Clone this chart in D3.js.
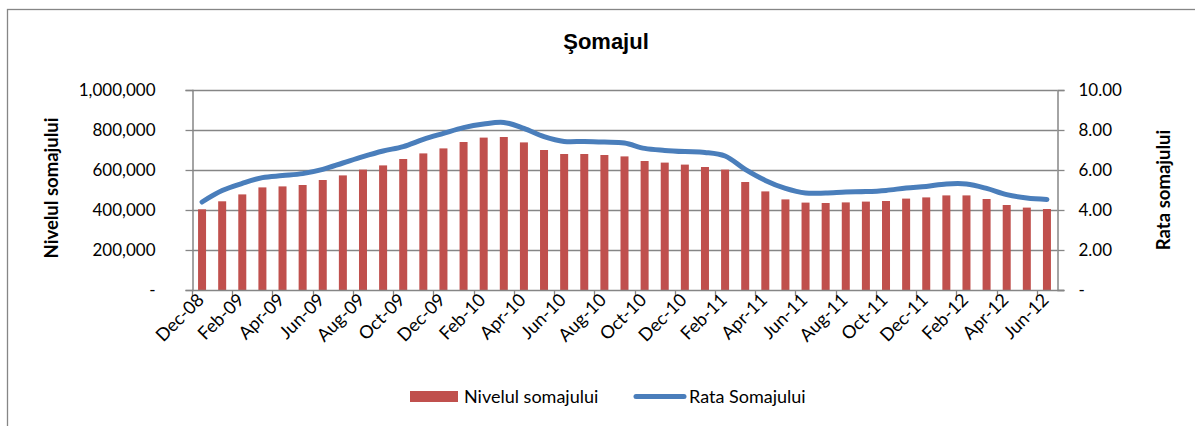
<!DOCTYPE html>
<html>
<head>
<meta charset="utf-8">
<script src="https://cdn.jsdelivr.net/npm/d3@7"></script>
<style>
    body { margin: 0; background: #fff; }
    text { font-family: Lato, "Open Sans", sans-serif; fill: #000; }
</style>
</head>
<body>
<div id="chart"></div>
<script>
const months = ["Dec-08", "Jan-09", "Feb-09", "Mar-09", "Apr-09", "May-09", "Jun-09", "Jul-09", "Aug-09", "Sep-09",
    "Oct-09", "Nov-09", "Dec-09", "Jan-10", "Feb-10", "Mar-10", "Apr-10", "May-10", "Jun-10", "Jul-10",
    "Aug-10", "Sep-10", "Oct-10", "Nov-10", "Dec-10", "Jan-11", "Feb-11", "Mar-11", "Apr-11", "May-11",
    "Jun-11", "Jul-11", "Aug-11", "Sep-11", "Oct-11", "Nov-11", "Dec-11", "Jan-12", "Feb-12", "Mar-12",
    "Apr-12", "May-12", "Jun-12"]

// numarul de someri (bare)
const nivelSomaj = [403500, 443500, 478000, 513000, 518000, 525000, 550000, 573000, 602000, 623000,
    655000, 683000, 708000, 740000, 762000, 765000, 738000, 700000, 680000, 680000,
    675000, 668000, 645000, 637000, 627000, 615000, 602000, 540000, 493000, 453000,
    437000, 435000, 438000, 442000, 445000, 457000, 463000, 473000, 473000, 455000,
    425000, 412000, 405000]

// rata somajului (linie)
const rataSomaj = [4.40, 4.97, 5.33, 5.62, 5.72, 5.82, 6.03, 6.35, 6.67, 6.95,
    7.17, 7.53, 7.83, 8.12, 8.30, 8.38, 8.08, 7.67, 7.43, 7.43,
    7.40, 7.35, 7.08, 6.98, 6.92, 6.88, 6.70, 6.03, 5.48, 5.08,
    4.85, 4.85, 4.90, 4.92, 4.98, 5.10, 5.18, 5.30, 5.30, 5.08,
    4.77, 4.60, 4.53]

const leftTicks = [0, 200000, 400000, 600000, 800000, 1000000]
const rightTicks = [0, 2, 4, 6, 8, 10]

const width = 1195
const height = 426
const plot = { left: 192, right: 1057, top: 90, bottom: 290 }
const gridColor = "#868686"
const barColor = "#c0504d"
const lineColor = "#4a7ebb"

const svg = d3.select("#chart")
    .append("svg")
    .attr("width", width)
    .attr("height", height)

// chenarul graficului
svg.append("rect")
    .attr("x", 7.5)
    .attr("y", 9.5)
    .attr("width", width + 10)
    .attr("height", height + 10)
    .style("fill", "none")
    .style("stroke", gridColor)
    .style("stroke-width", 1.3)

const x = d3.scaleBand()
    .domain(months)
    .range([plot.left, plot.right])
const yLeft = d3.scaleLinear()
    .domain([0, 1000000])
    .range([plot.bottom, plot.top])
const yRight = d3.scaleLinear()
    .domain([0, 10])
    .range([plot.bottom, plot.top])

// linii de grila
svg.selectAll(".grid")
    .data(leftTicks.slice(1))
    .enter()
    .append("line")
    .attr("class", "grid")
    .attr("x1", plot.left)
    .attr("x2", plot.right)
    .attr("y1", d => Math.round(yLeft(d)) + 0.5)
    .attr("y2", d => Math.round(yLeft(d)) + 0.5)
    .style("stroke", gridColor)
    .style("stroke-width", 1.3)

const fmtLeft = d => d === 0 ? "-" : d3.format(",")(d)
const fmtRight = d => d === 0 ? "-" : d3.format(".2f")(d)

const leftAxis = svg.append("g")
    .attr("transform", `translate(${plot.left + 0.5},0)`)
    .call(d3.axisLeft(yLeft).tickValues(leftTicks).tickFormat(fmtLeft).tickSize(7).tickPadding(30))
const rightAxis = svg.append("g")
    .attr("transform", `translate(${plot.right + 0.5},0)`)
    .call(d3.axisRight(yRight).tickValues(rightTicks).tickFormat(fmtRight).tickSize(7).tickPadding(14))

for (const ax of [leftAxis, rightAxis]) {
    ax.select(".domain").style("stroke", gridColor).style("stroke-width", 1.5)
    ax.selectAll(".tick line").style("stroke", gridColor).style("stroke-width", 1.3)
    ax.selectAll("text")
        .style("font-family", "Lato, sans-serif")
        .style("font-size", "17px")
        .style("fill", "#000")
}

// bare
const barWidth = 8
svg.selectAll(".bar")
    .data(nivelSomaj)
    .enter()
    .append("rect")
    .attr("class", "bar")
    .attr("x", (d, i) => x(months[i]) + x.bandwidth() / 2 - barWidth / 2)
    .attr("y", d => yLeft(d))
    .attr("width", barWidth)
    .attr("height", d => plot.bottom - yLeft(d))
    .style("fill", barColor)

// axa x
svg.append("line")
    .attr("x1", plot.left)
    .attr("x2", plot.right + 7)
    .attr("y1", plot.bottom + 0.5)
    .attr("y2", plot.bottom + 0.5)
    .style("stroke", gridColor)
    .style("stroke-width", 1.5)

const labelled = months.filter((d, i) => i % 2 === 0)
svg.selectAll(".xtick")
    .data(labelled)
    .enter()
    .append("line")
    .attr("class", "xtick")
    .attr("x1", d => Math.round(x(d)) + 0.5)
    .attr("x2", d => Math.round(x(d)) + 0.5)
    .attr("y1", plot.bottom)
    .attr("y2", plot.bottom + 6)
    .style("stroke", gridColor)
    .style("stroke-width", 1.3)

svg.selectAll(".xlabel")
    .data(labelled)
    .enter()
    .append("text")
    .attr("class", "xlabel")
    .text(d => d)
    .attr("text-anchor", "end")
    .attr("transform", d => `translate(${x(d) + x.bandwidth() / 2 + 3},${plot.bottom + 11}) rotate(-45)`)
    .style("font-size", "18px")

// linia ratei
const line = d3.line()
    .x((d, i) => x(months[i]) + x.bandwidth() / 2)
    .y(d => yRight(d))
    .curve(d3.curveCatmullRom)
svg.append("path")
    .datum(rataSomaj)
    .attr("d", line)
    .style("fill", "none")
    .style("stroke", lineColor)
    .style("stroke-width", 5)
    .style("stroke-linecap", "round")
    .style("stroke-linejoin", "round")

// titluri
svg.append("text")
    .text("Şomajul")
    .attr("x", 606)
    .attr("y", 49)
    .attr("text-anchor", "middle")
    .style("font-family", "'Liberation Sans', Arial, sans-serif")
    .style("font-weight", "bold")
    .style("font-size", "22px")

svg.append("text")
    .text("Nivelul somajului")
    .attr("transform", `translate(58,${(plot.top + plot.bottom) / 2 - 2}) rotate(-90)`)
    .attr("text-anchor", "middle")
    .style("font-weight", "bold")
    .style("font-size", "18.5px")

svg.append("text")
    .text("Rata somajului")
    .attr("transform", `translate(1170,${(plot.top + plot.bottom) / 2}) rotate(-90)`)
    .attr("text-anchor", "middle")
    .style("font-weight", "bold")
    .style("font-size", "18.5px")

// legenda
const legend = svg.append("g")
legend.append("rect")
    .attr("x", 410)
    .attr("y", 391)
    .attr("width", 48)
    .attr("height", 11)
    .style("fill", barColor)
legend.append("text")
    .text("Nivelul somajului")
    .attr("x", 464)
    .attr("y", 403)
    .style("font-size", "18px")
legend.append("line")
    .attr("x1", 636)
    .attr("x2", 684)
    .attr("y1", 396.5)
    .attr("y2", 396.5)
    .style("stroke", lineColor)
    .style("stroke-width", 5)
    .style("stroke-linecap", "round")
legend.append("text")
    .text("Rata Somajului")
    .attr("x", 689)
    .attr("y", 403)
    .style("font-size", "18px")
</script>
</body>
</html>
